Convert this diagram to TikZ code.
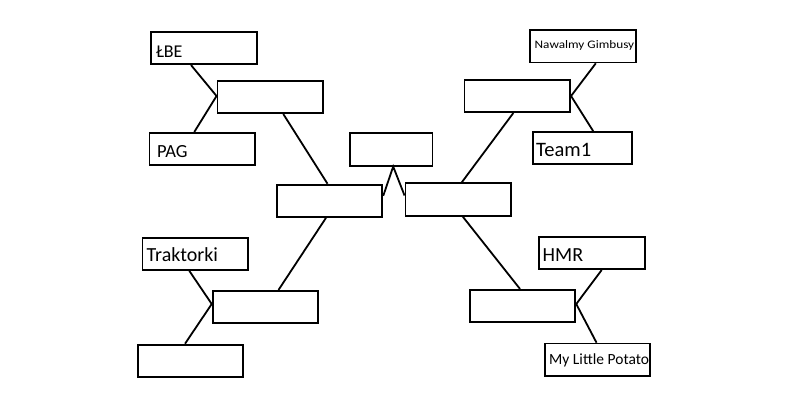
\documentclass[tikz,border=0pt]{standalone}
\usepackage{fontspec}
\setmainfont{Carlito}
\usepackage{graphicx}
\begin{document}
\begin{tikzpicture}[x=1pt,y=-1pt,
  box/.style={draw=black, line width=1.8pt, rectangle, minimum width=105.7pt, minimum height=32.3pt, inner sep=0pt, anchor=center},
  conn/.style={draw=black, line width=1.8pt},
  lbl/.style={anchor=base west, inner sep=0pt, text=black}]
\useasboundingbox[fill=white] (0,0) rectangle (788,419);
% boxes
\node[box] (lbe) at (204,48) {};
\node[box] (A) at (270.3,97) {};
\node[box] (pag) at (202.3,149) {};
\node[box] (ng) at (582.8,46.3) {};
\node[box] (B) at (517.3,96) {};
\node[box, minimum width=99pt] (team1) at (582.2,148.2) {};
\node[box, minimum width=82.5pt] (top) at (391.2,149.5) {};
\node[box] (C) at (329.5,200.8) {};
\node[box] (D) at (458.3,199.5) {};
\node[box] (trak) at (195.3,253.8) {};
\node[box] (E) at (265.5,307) {};
\node[box] (G) at (190.5,360.8) {};
\node[box] (hmr) at (592,253) {};
\node[box] (F) at (522.5,306) {};
\node[box] (mlp) at (597.5,359.7) {};
% labels
\node[lbl] (tlbe) at (156,57.7) {\fontsize{18}{20}\selectfont ŁBE};
\node[lbl] (tpag) at (157,157.3) {\fontsize{18.5}{20}\selectfont PAG};
\node[lbl] (tteam) at (536,156.7) {\fontsize{20.5}{22}\selectfont Team1};
\node[lbl] (ttrak) at (146.5,261.7) {\fontsize{20}{22}\selectfont Traktorki};
\node[lbl] (thmr) at (542.5,261.7) {\fontsize{20}{22}\selectfont HMR};
\node[lbl] (tmlp) at (549,364.3) {\fontsize{15.5}{17}\selectfont My Little Potato};
\node[lbl] (tng) at (534.5,49) {\scalebox{1.15}[1]{\fontsize{11.5}{13}\selectfont Nawalmy Gimbusy}};
% connectors
\draw[conn] ([xshift=-13pt]lbe.south) -- ([yshift=1pt]A.west);
\draw[conn] ([yshift=1pt]A.west) -- ([xshift=-8pt]pag.north);
\draw[conn] ([xshift=13pt]A.south) -- ([xshift=-2pt]C.north);
\draw[conn] ([xshift=-3.5pt]C.south) -- ([xshift=13pt]E.north);
\draw[conn] ([xshift=-6pt]trak.south) -- ([yshift=3pt]E.west);
\draw[conn] ([yshift=3pt]E.west) -- ([xshift=-5.5pt]G.north);
\draw[conn] ([xshift=13pt]ng.south) -- (B.east);
\draw[conn] (B.east) -- ([xshift=11pt]team1.north);
\draw[conn] ([xshift=-4pt]B.south) -- ([xshift=3.4pt]D.north);
\draw[conn] ([xshift=4.4pt]D.south) -- ([xshift=-2.5pt]F.north);
\draw[conn] ([xshift=9.7pt]hmr.south) -- ([yshift=2pt]F.east);
\draw[conn] ([yshift=2pt]F.east) -- ([xshift=-1pt]mlp.north);
\draw[conn] ([yshift=5pt]C.east) -- ([xshift=2pt]top.south) -- ([yshift=4pt]D.west);
\end{tikzpicture}
\end{document}
